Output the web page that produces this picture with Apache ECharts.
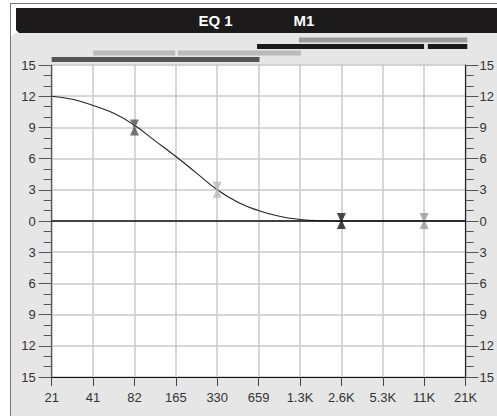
<!DOCTYPE html>
<html>
<head>
<meta charset="utf-8">
<script src="https://cdn.jsdelivr.net/npm/echarts@6/dist/echarts.min.js"></script>
<style>
html,body{margin:0;padding:0;background:#fff;}
#c{width:497px;height:416px;}
</style>
</head>
<body>
<div id="c"></div>
<script>
// ---- data ----
const freqLabels = ['21','41','82','165','330','659','1.3K','2.6K','5.3K','11K','21K'];
const titleLeft = 'EQ 1';
const titleRight = 'M1';
// response curve, x in octaves above 21 Hz
const curveOct = [0,0.5,1,1.5,2,2.5,3,3.5,4,4.5,5,5.5,6,6.5,7,8,9,10];
const curveDb  = [12,11.7,11.1,10.35,9.2,7.7,6.2,4.6,3.0,1.8,1.0,0.45,0.15,0.03,0,0,0,0];
// band handles
const bandOct  = [2,4,7,9];
const bandGain = [9,3,0,0];
// bandwidth bars: start octave, end octave, row, band index
const bwStart = [5.95,4.94,9.05,1.0,3.04,0];
const bwEnd   = [10,8.96,10,2.97,6.0,5.0];
const bwRow   = [0,1,1,2,2,3];
const bwBand  = [3,2,2,1,1,0];

// ---- styles ----
const bandColors = ['#555555','#bababa','#1a1a1a','#9a9a9a'];
const font = 'Liberation Sans, Arial, sans-serif';
const gridCol = '#c9c9c9';

const chart = echarts.init(document.getElementById('c'), null, {renderer:'svg'});

const curveData = curveOct.map((o,i)=>[o,curveDb[i]]);
const bwData = bwStart.map((s,i)=>[s,bwEnd[i],bwRow[i],bwBand[i]]);
const hourglass = 'path://M0,0 L10,0 L6,8 L10,16 L0,16 L4,8 Z';

const yAxisCommon = {
  type:'value', min:-15, max:15, interval:3, gridIndex:0,
  axisLabel:{formatter:v=>String(Math.abs(v)), color:'#333', fontSize:13, fontFamily:font},
  axisTick:{show:true, length:13, lineStyle:{color:'#555'}},
  minorTick:{show:true, splitNumber:3, length:8, lineStyle:{color:'#555'}}
};

chart.setOption({
  animation:false,
  backgroundColor:'#ffffff',
  graphic:[
    {type:'polygon', silent:true, z:-10, shape:{points:[[11,37],[15,33],[497,33],[497,416],[11,416]]}, style:{fill:'#e6e6e6'}},
    {type:'polygon', silent:true, z:-8, shape:{points:[[16,8],[497,8],[497,33],[19,33],[16,30]]}, style:{fill:'#1c1a1a'}},
    {type:'line', silent:true, z:1, shape:{x1:10.5, y1:3, x2:10.5, y2:416}, style:{stroke:'#777', lineWidth:1}},
    {type:'line', silent:true, z:1, shape:{x1:10, y1:3.5, x2:497, y2:3.5}, style:{stroke:'#777', lineWidth:1}},
    {type:'text', silent:true, z:5, style:{text:titleLeft, x:215.5, y:20.5, align:'center', verticalAlign:'middle', fill:'#fff', font:'bold 15px '+font}},
    {type:'text', silent:true, z:5, style:{text:titleRight, x:304, y:20.5, align:'center', verticalAlign:'middle', fill:'#fff', font:'bold 15px '+font}}
  ],
  grid:[
    {left:51.7, right:29.7, top:65, bottom:39, show:true, backgroundColor:'#ffffff', borderWidth:0},
    {left:51.7, right:29.7, top:36.75, height:26, show:false}
  ],
  xAxis:[
    {type:'value', gridIndex:0, min:0, max:10, interval:1,
     axisLine:{onZero:false, lineStyle:{color:'#111', width:1.2}},
     axisTick:{show:true, length:9, lineStyle:{color:'#444'}},
     axisLabel:{formatter:v=>freqLabels[Math.round(v)]||'', color:'#333', fontSize:13, fontFamily:font, margin:14},
     splitLine:{show:true, lineStyle:{color:gridCol, width:1.5}}},
    {type:'value', gridIndex:1, min:0, max:10, show:false}
  ],
  yAxis:[
    Object.assign({}, yAxisCommon, {position:'left',
      axisLine:{show:true, lineStyle:{color:'#555', width:1.2}},
      axisLabel:Object.assign({}, yAxisCommon.axisLabel, {margin:16}),
      splitLine:{show:true, lineStyle:{color:gridCol, width:1.5}}}),
    Object.assign({}, yAxisCommon, {position:'right',
      axisLine:{show:true, lineStyle:{color:'#222', width:1.2}},
      axisLabel:Object.assign({}, yAxisCommon.axisLabel, {margin:14}),
      splitLine:{show:false}}),
    {type:'value', gridIndex:1, min:0, max:4, inverse:true, show:false}
  ],
  series:[
    {type:'line', xAxisIndex:0, yAxisIndex:0, data:curveData, smooth:0.5,
     showSymbol:false, lineStyle:{color:'#222', width:1.1}, z:3,
     markLine:{silent:true, symbol:'none', label:{show:false}, lineStyle:{color:'#111', width:1.5, type:'solid'}, data:[{yAxis:0}]}},
    {type:'scatter', xAxisIndex:0, yAxisIndex:0, z:4,
     data:bandOct.map((o,i)=>({value:[o,bandGain[i]], itemStyle:{color:bandColors[i]}})),
     symbol:hourglass, symbolSize:[9,16]},
    {type:'custom', xAxisIndex:1, yAxisIndex:2, data:bwData, encode:{x:[0,1], y:2},
     renderItem:(params, api)=>{
       const r = api.value(2)+0.5;
       const s = api.coord([api.value(0), r]);
       const e = api.coord([api.value(1), r]);
       return {type:'rect', shape:{x:s[0], y:s[1]-2.5, width:e[0]-s[0], height:5},
               style:{fill:bandColors[api.value(3)]}};
     }}
  ]
});
</script>
</body>
</html>
